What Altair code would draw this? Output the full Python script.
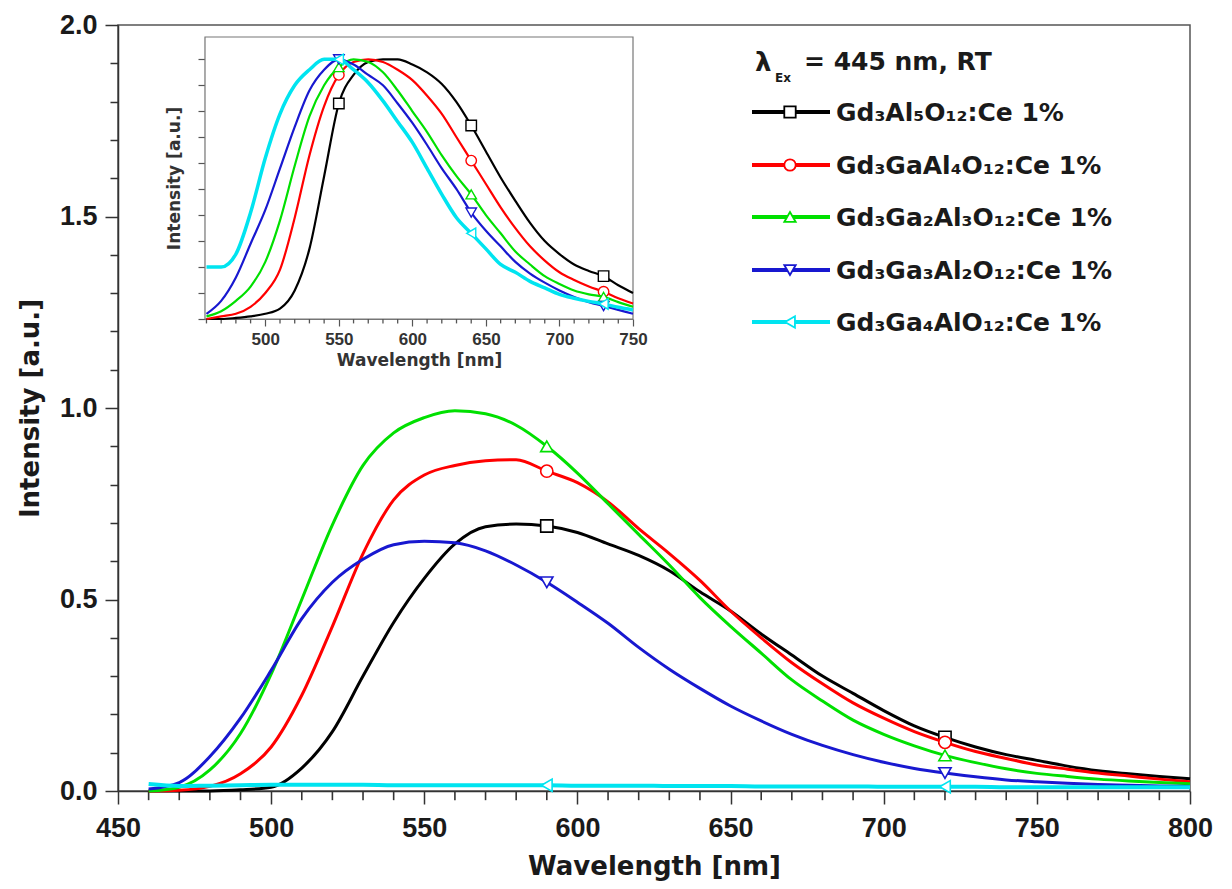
import altair as alt
import pandas as pd

# ---------------- data ----------------
NAMES = ["Gd₃Al₅O₁₂:Ce 1%", "Gd₃GaAl₄O₁₂:Ce 1%", "Gd₃Ga₂Al₃O₁₂:Ce 1%",
         "Gd₃Ga₃Al₂O₁₂:Ce 1%", "Gd₃Ga₄AlO₁₂:Ce 1%"]
COLORS = ["#000000", "#ff0000", "#00e000", "#1818d0", "#00e4f0"]
SHAPES = ["square", "circle", "triangle-up", "triangle-down", "triangle-left"]

WL_MAIN = [460, 470, 480, 490, 500, 510, 520, 530, 540, 550, 560, 570, 580, 590,
           600, 610, 620, 630, 640, 650, 660, 670, 680, 690, 700, 710, 720, 730,
           740, 750, 760, 770, 780, 790, 800]
BLACK_MAIN = [0.000, 0.000, 0.000, 0.003, 0.010, 0.060, 0.155, 0.300, 0.440, 0.555,
              0.645, 0.690, 0.697, 0.692, 0.675, 0.645, 0.615, 0.575, 0.520, 0.470,
              0.410, 0.355, 0.300, 0.255, 0.210, 0.170, 0.140, 0.115, 0.095, 0.080,
              0.065, 0.053, 0.045, 0.038, 0.032]
RED_MAIN = [0.000, 0.002, 0.012, 0.045, 0.115, 0.250, 0.430, 0.620, 0.760, 0.825,
            0.850, 0.862, 0.865, 0.835, 0.805, 0.755, 0.685, 0.620, 0.550, 0.470,
            0.400, 0.335, 0.280, 0.230, 0.190, 0.155, 0.127, 0.103, 0.085, 0.068,
            0.057, 0.047, 0.039, 0.031, 0.024]
GREEN_MAIN = [0.000, 0.010, 0.055, 0.150, 0.305, 0.500, 0.695, 0.850, 0.935, 0.975,
              0.993, 0.985, 0.955, 0.900, 0.830, 0.750, 0.670, 0.590, 0.505, 0.430,
              0.360, 0.290, 0.235, 0.185, 0.148, 0.118, 0.093, 0.074, 0.058, 0.046,
              0.038, 0.031, 0.026, 0.022, 0.019]
BLUE_MAIN = [0.005, 0.022, 0.090, 0.190, 0.315, 0.450, 0.545, 0.605, 0.643, 0.652,
             0.648, 0.627, 0.590, 0.545, 0.493, 0.438, 0.375, 0.318, 0.268, 0.222,
             0.183, 0.148, 0.119, 0.095, 0.075, 0.059, 0.047, 0.037, 0.029, 0.024,
             0.020, 0.017, 0.015, 0.013, 0.012]
CYAN_MAIN = [0.018, 0.013, 0.014, 0.015, 0.016, 0.016, 0.016, 0.016, 0.015, 0.015,
             0.015, 0.015, 0.015, 0.015, 0.014, 0.014, 0.014, 0.013, 0.013, 0.013,
             0.012, 0.012, 0.012, 0.012, 0.011, 0.011, 0.011, 0.011, 0.010, 0.010,
             0.010, 0.010, 0.010, 0.010, 0.010]

WL_INSET = [460, 470, 480, 490, 500, 510, 520, 530, 540, 550, 560, 570, 580, 590,
            600, 610, 620, 630, 640, 650, 660, 670, 680, 690, 700, 710, 720, 730,
            740, 750]
BLACK_INSET = [0.000, 0.000, 0.004, 0.010, 0.020, 0.040, 0.110, 0.270, 0.550, 0.830,
               0.940, 0.990, 1.000, 1.000, 0.980, 0.950, 0.905, 0.835, 0.745, 0.645,
               0.545, 0.455, 0.370, 0.300, 0.250, 0.210, 0.185, 0.165, 0.130, 0.100]
RED_INSET = [0.000, 0.010, 0.020, 0.047, 0.100, 0.190, 0.390, 0.630, 0.820, 0.940,
             0.990, 1.000, 0.990, 0.960, 0.920, 0.860, 0.790, 0.700, 0.610, 0.520,
             0.430, 0.350, 0.280, 0.225, 0.180, 0.150, 0.125, 0.105, 0.080, 0.060]
GREEN_INSET = [0.010, 0.030, 0.070, 0.125, 0.220, 0.380, 0.590, 0.780, 0.900, 0.970,
               1.000, 0.990, 0.950, 0.880, 0.800, 0.720, 0.630, 0.550, 0.480, 0.400,
               0.330, 0.260, 0.210, 0.165, 0.135, 0.110, 0.095, 0.085, 0.065, 0.047]
BLUE_INSET = [0.020, 0.070, 0.160, 0.290, 0.420, 0.580, 0.740, 0.880, 0.960, 1.000,
              0.980, 0.940, 0.900, 0.830, 0.755, 0.670, 0.580, 0.500, 0.410, 0.340,
              0.280, 0.220, 0.175, 0.140, 0.110, 0.085, 0.065, 0.050, 0.035, 0.020]
CYAN_INSET = [0.200, 0.200, 0.250, 0.410, 0.620, 0.790, 0.900, 0.960, 1.000, 1.000,
              0.960, 0.910, 0.840, 0.760, 0.680, 0.580, 0.480, 0.390, 0.330, 0.270,
              0.210, 0.180, 0.145, 0.120, 0.095, 0.080, 0.068, 0.058, 0.045, 0.035]

MAIN_SERIES = [BLACK_MAIN, RED_MAIN, GREEN_MAIN, BLUE_MAIN, CYAN_MAIN]
INSET_SERIES = [BLACK_INSET, RED_INSET, GREEN_INSET, BLUE_INSET, CYAN_INSET]
MAIN_MARKER_WL = [590, 720]
INSET_MARKER_WL = [550, 640, 730]

X_MAJOR = [450, 500, 550, 600, 650, 700, 750, 800]
X_MINOR = [460, 470, 480, 490, 510, 520, 530, 540, 560, 570, 580, 590,
           610, 620, 630, 640, 660, 670, 680, 690, 710, 720, 730, 740,
           760, 770, 780, 790]
Y_MAJOR = [0.0, 0.5, 1.0, 1.5, 2.0]
Y_MINOR = [0.1, 0.2, 0.3, 0.4, 0.6, 0.7, 0.8, 0.9, 1.1, 1.2, 1.3, 1.4,
           1.6, 1.7, 1.8, 1.9]
INSET_X_MAJOR = [500, 550, 600, 650, 700, 750]
INSET_X_MINOR = [460, 470, 480, 490, 510, 520, 530, 540, 560, 570, 580, 590,
                 610, 620, 630, 640, 660, 670, 680, 690, 710, 720, 730, 740]
INSET_Y_TICKS = [0.0, 0.1, 0.2, 0.3, 0.4, 0.5, 0.6, 0.7, 0.8, 0.9, 1.0]

# ---------------- scales & axes ----------------
AX_COL = "#333333"
TXT_COL = "#1a1a1a"
MAIN_X_DOMAIN = [450, 800]
MAIN_Y_DOMAIN = [0, 2]
INSET_X_DOMAIN = [459, 750]
INSET_Y_DOMAIN = [0, 1.086]
INSET_X_RANGE = [87, 515]
INSET_Y_RANGE = [294, 12]
MINOR_LEN_MAIN = -0.024    # minor tick length below the x axis, in y-axis units (~9 px)
MINOR_LEN_INSET = -0.017   # inset minor tick length, in inset y units (~4.5 px)


def xs_main():
    return alt.Scale(domain=MAIN_X_DOMAIN, nice=False, zero=False)


def ys_main():
    return alt.Scale(domain=MAIN_Y_DOMAIN, nice=False, zero=False)


def xs_in():
    return alt.Scale(domain=INSET_X_DOMAIN, range=INSET_X_RANGE, nice=False, zero=False)


def ys_in():
    return alt.Scale(domain=INSET_Y_DOMAIN, range=INSET_Y_RANGE, nice=False, zero=False)


ax_x = alt.Axis(orient="bottom", values=X_MAJOR, format="d", title="Wavelength [nm]",
                grid=False, tickSize=13, tickWidth=1.5, tickColor=AX_COL,
                domainColor=AX_COL, domainWidth=1.5, labelFlush=False, labelPadding=11,
                labelFont="Liberation Sans", labelFontSize=27, labelFontWeight="bold",
                labelColor=TXT_COL, titleFont="DejaVu Sans", titleFontSize=26,
                titleFontWeight="bold", titleColor=TXT_COL, titlePadding=12)
ax_y = alt.Axis(orient="left", values=Y_MAJOR, format=".1f", title="Intensity [a.u.]",
                grid=False, tickSize=13, tickWidth=1.5, tickColor=AX_COL,
                domainColor=AX_COL, domainWidth=1.5, labelFlush=False, labelPadding=8,
                labelFont="Liberation Sans", labelFontSize=27, labelFontWeight="bold",
                labelColor=TXT_COL, titleFont="DejaVu Sans", titleFontSize=26,
                titleFontWeight="bold", titleColor=TXT_COL, titlePadding=16)
ax_y_minor = alt.Axis(orient="left", values=Y_MINOR, labels=False, title=None,
                      domain=False, grid=False, tickSize=8, tickWidth=1.5, tickColor=AX_COL)
ax_xi = alt.Axis(orient="bottom", offset=-472, values=INSET_X_MAJOR, format="d",
                 title="Wavelength [nm]", grid=False, tickSize=7, tickWidth=1.2,
                 tickColor="#555", domainColor="#777", domainWidth=1.2,
                 labelFlush=False, labelPadding=5, labelFont="Liberation Sans",
                 labelFontSize=17, labelFontWeight="bold", labelColor="#333",
                 titleFont="DejaVu Sans", titleFontSize=17, titleFontWeight="bold",
                 titleColor="#333", titlePadding=5)
ax_yi = alt.Axis(orient="left", offset=-87, values=INSET_Y_TICKS, labels=False,
                 title="Intensity [a.u.]", grid=False, tickSize=7, tickWidth=1.2,
                 tickColor="#555", domainColor="#777", domainWidth=1.2,
                 titleFont="DejaVu Sans", titleFontSize=17, titleFontWeight="bold",
                 titleColor="#333", titlePadding=14)

one = pd.DataFrame({"k": [0]})

# ---------------- main plot ----------------
main_layers = []
# minor x ticks through the shared scales
main_layers.append(
    alt.Chart(pd.DataFrame({"t": X_MINOR})).mark_rule(color=AX_COL, strokeWidth=1.6)
    .encode(x=alt.X("t:Q", scale=xs_main(), axis=ax_x),
            y=alt.Y(datum=0, scale=ys_main(), axis=ax_y),
            y2=alt.Y2(datum=MINOR_LEN_MAIN))
)
for name, col, shp, vals in zip(NAMES, COLORS, SHAPES, MAIN_SERIES):
    df = pd.DataFrame({"wl": WL_MAIN, "I": vals})
    sw = 4 if col == COLORS[4] else 3
    main_layers.append(
        alt.Chart(df).mark_line(color=col, strokeWidth=sw, interpolate="monotone")
        .encode(x=alt.X("wl:Q", scale=xs_main(), axis=ax_x),
                y=alt.Y("I:Q", scale=ys_main(), axis=ax_y))
    )
    mdf = df[df["wl"].isin(MAIN_MARKER_WL)]
    main_layers.append(
        alt.Chart(mdf).mark_point(shape=shp, filled=True, fill="white", stroke=col,
                                  strokeWidth=1.6, size=150, opacity=1)
        .encode(x=alt.X("wl:Q", scale=xs_main(), axis=ax_x),
                y=alt.Y("I:Q", scale=ys_main(), axis=ax_y))
    )

# legend (drawn inside the plot area, top right)
LEG_FONT = "DejaVu Sans"
main_layers.append(alt.Chart(one).mark_text(text="λ", font=LEG_FONT, fontSize=26,
                   fontWeight="bold", align="left", baseline="alphabetic", color=TXT_COL)
                   .encode(x=alt.value(637), y=alt.value(46)))
main_layers.append(alt.Chart(one).mark_text(text="Ex", font=LEG_FONT, fontSize=12,
                   fontWeight="bold", align="left", baseline="alphabetic", color=TXT_COL)
                   .encode(x=alt.value(657), y=alt.value(57)))
main_layers.append(alt.Chart(one).mark_text(text="= 445 nm, RT", font=LEG_FONT, fontSize=25,
                   fontWeight="bold", align="left", baseline="alphabetic", color=TXT_COL)
                   .encode(x=alt.value(686), y=alt.value(45)))
row_y = [87, 140, 192, 245, 297]
for name, col, shp, ry in zip(NAMES, COLORS, SHAPES, row_y):
    main_layers.append(alt.Chart(one).mark_rule(color=col, strokeWidth=4)
                       .encode(x=alt.value(634), x2=alt.value(712), y=alt.value(ry)))
    main_layers.append(alt.Chart(one).mark_point(shape=shp, filled=True, fill="white",
                       stroke=col, strokeWidth=1.8, size=130, opacity=1)
                       .encode(x=alt.value(672), y=alt.value(ry)))
    main_layers.append(alt.Chart(one).mark_text(text=name, font=LEG_FONT, fontSize=25,
                       fontWeight="bold", align="left", baseline="alphabetic", color=TXT_COL)
                       .encode(x=alt.value(718), y=alt.value(ry + 9)))
main_group = alt.layer(*main_layers)

# minor y ticks of the main plot (own axis on an identical scale)
minor_group = alt.layer(
    alt.Chart(pd.DataFrame({"t": Y_MINOR})).mark_point(opacity=0)
    .encode(y=alt.Y("t:Q", scale=ys_main(), axis=ax_y_minor)),
)

# ---------------- inset ----------------
inset_layers = []
inset_layers.append(alt.Chart(one).mark_rect(fill="white", stroke="#777", strokeWidth=1.2)
                    .encode(x=alt.value(87), x2=alt.value(515), y=alt.value(12), y2=alt.value(294)))
inset_layers.append(
    alt.Chart(pd.DataFrame({"t": INSET_X_MINOR})).mark_rule(color="#555", strokeWidth=1.3)
    .encode(x=alt.X("t:Q", scale=xs_in(), axis=ax_xi),
            y=alt.Y(datum=0, scale=ys_in(), axis=ax_yi),
            y2=alt.Y2(datum=MINOR_LEN_INSET))
)
for name, col, shp, vals in zip(NAMES, COLORS, SHAPES, INSET_SERIES):
    df = pd.DataFrame({"wl": WL_INSET, "I": vals})
    sw = 3.5 if col == COLORS[4] else 2.2
    inset_layers.append(
        alt.Chart(df).mark_line(color=col, strokeWidth=sw, interpolate="monotone")
        .encode(x=alt.X("wl:Q", scale=xs_in(), axis=ax_xi),
                y=alt.Y("I:Q", scale=ys_in(), axis=ax_yi))
    )
    mdf = df[df["wl"].isin(INSET_MARKER_WL)]
    inset_layers.append(
        alt.Chart(mdf).mark_point(shape=shp, filled=True, fill="white", stroke=col,
                                  strokeWidth=1.4, size=110, opacity=1)
        .encode(x=alt.X("wl:Q", scale=xs_in(), axis=ax_xi),
                y=alt.Y("I:Q", scale=ys_in(), axis=ax_yi))
    )
inset_group = alt.layer(*inset_layers)

chart = (
    alt.layer(main_group, minor_group, inset_group)
    .resolve_scale(x="independent", y="independent")
    .properties(width=1072, height=766, background="white",
                autosize=alt.AutoSizeParams(type="none"),
                padding={"left": 118, "top": 25, "right": 42, "bottom": 98})
    .configure_view(stroke="#555", strokeWidth=1.5)
)

chart.save("out.html", embed_options={"renderer": "svg", "actions": False})
